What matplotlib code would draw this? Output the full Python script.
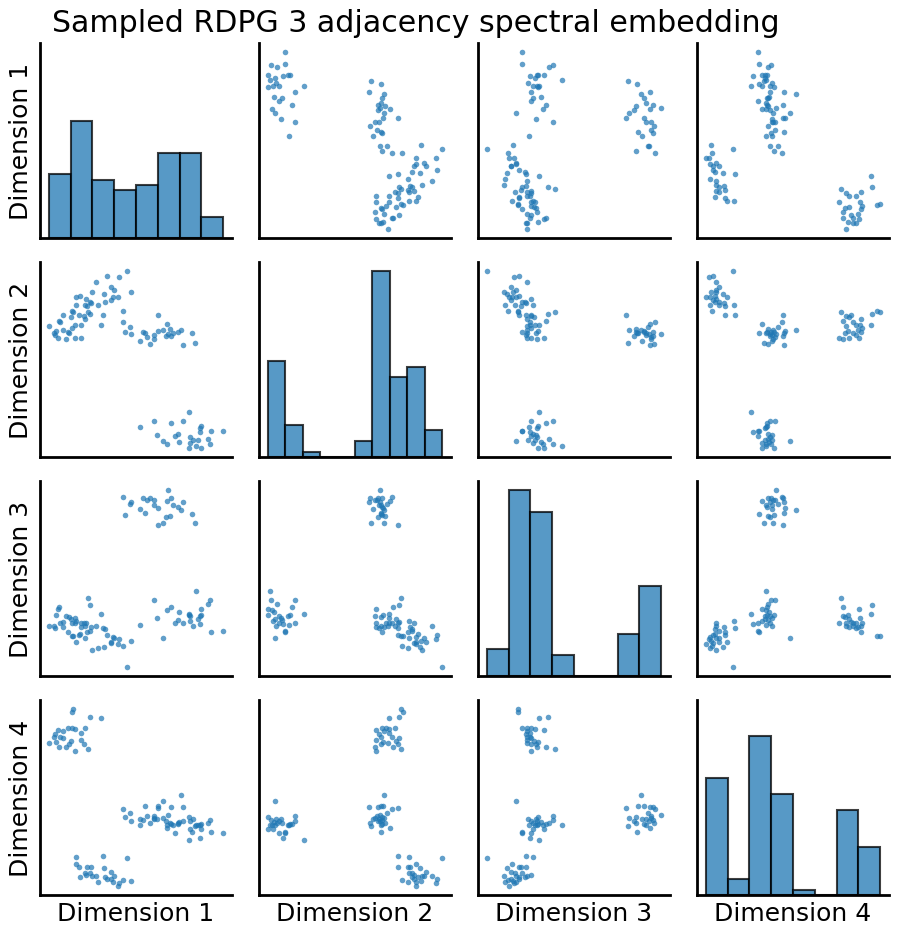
import numpy as np
import matplotlib.pyplot as plt

# adjacency spectral embedding, 100 nodes (4 blocks of 25)
dim1 = [0.112, 0.108, 0.163, 0.196, 0.107, 0.097, 0.148, 0.118, 0.067, 0.082, 0.135, 0.056, 0.055,
        0.072, 0.080, 0.136, 0.104, 0.060, 0.038, 0.145, 0.100, 0.070, 0.090, 0.157, 0.118,
        0.202, 0.121, 0.274, 0.120, 0.130, 0.153, 0.166, 0.205, 0.226, 0.148, 0.163, 0.150, 0.168,
        0.180, 0.233, 0.133, 0.207, 0.213, 0.224, 0.262, 0.286, 0.185, 0.232, 0.248, 0.247,
        0.380, 0.355, 0.458, 0.470, 0.364, 0.523, 0.442, 0.462, 0.428, 0.517, 0.426, 0.495, 0.405,
        0.480, 0.313, 0.394, 0.493, 0.486, 0.462, 0.494, 0.526, 0.562, 0.416, 0.492, 0.460,
        0.436, 0.366, 0.326, 0.442, 0.406, 0.367, 0.262, 0.283, 0.397, 0.332, 0.268, 0.355, 0.380,
        0.313, 0.355, 0.322, 0.284, 0.390, 0.343, 0.403, 0.426, 0.410, 0.476, 0.394, 0.468]
dim2 = [0.439, 0.443, 0.433, 0.403, 0.392, 0.380, 0.420, 0.403, 0.364, 0.386, 0.402, 0.373, 0.378,
        0.412, 0.432, 0.364, 0.424, 0.385, 0.400, 0.428, 0.378, 0.415, 0.360, 0.439, 0.362,
        0.430, 0.462, 0.562, 0.484, 0.430, 0.458, 0.466, 0.494, 0.514, 0.462, 0.470, 0.478, 0.500,
        0.530, 0.506, 0.488, 0.470, 0.546, 0.476, 0.442, 0.498, 0.460, 0.484, 0.544, 0.484,
        0.058, 0.118, 0.037, 0.062, 0.076, 0.048, 0.118, 0.070, 0.055, 0.065, 0.080, 0.104, 0.110,
        0.044, 0.100, 0.050, 0.098, 0.060, 0.052, 0.038, 0.088, 0.089, 0.072, 0.084, 0.145,
        0.388, 0.385, 0.378, 0.343, 0.370, 0.430, 0.412, 0.397, 0.375, 0.366, 0.380, 0.360, 0.386,
        0.355, 0.372, 0.380, 0.375, 0.368, 0.344, 0.390, 0.382, 0.378, 0.348, 0.404, 0.378]
dim3 = [0.133, 0.133, 0.223, 0.198, 0.172, 0.145, 0.162, 0.185, 0.211, 0.160, 0.170, 0.157, 0.162,
        0.170, 0.174, 0.160, 0.182, 0.194, 0.162, 0.172, 0.188, 0.218, 0.190, 0.244, 0.172,
        0.157, 0.178, 0.040, 0.115, 0.136, 0.144, 0.158, 0.100, 0.114, 0.126, 0.146, 0.172, 0.092,
        0.162, 0.127, 0.138, 0.154, 0.136, 0.112, 0.103, 0.118, 0.096, 0.128, 0.122, 0.108,
        0.127, 0.238, 0.195, 0.163, 0.187, 0.238, 0.172, 0.192, 0.202, 0.226, 0.180, 0.195, 0.217,
        0.265, 0.166, 0.208, 0.190, 0.184, 0.178, 0.212, 0.145, 0.146, 0.172, 0.169, 0.198,
        0.505, 0.512, 0.496, 0.530, 0.540, 0.460, 0.545, 0.524, 0.565, 0.535, 0.490, 0.535, 0.468,
        0.508, 0.520, 0.540, 0.528, 0.484, 0.542, 0.488, 0.514, 0.520, 0.466, 0.532, 0.493]
dim4 = [0.567, 0.557, 0.542, 0.539, 0.510, 0.509, 0.508, 0.506, 0.502, 0.499, 0.493, 0.492, 0.483,
        0.483, 0.478, 0.472, 0.470, 0.468, 0.463, 0.462, 0.460, 0.452, 0.452, 0.446, 0.440,
        0.122, 0.119, 0.116, 0.098, 0.090, 0.090, 0.089, 0.086, 0.074, 0.073, 0.072, 0.065, 0.063,
        0.063, 0.062, 0.060, 0.059, 0.055, 0.054, 0.052, 0.049, 0.044, 0.044, 0.042, 0.032,
        0.290, 0.243, 0.240, 0.236, 0.236, 0.232, 0.230, 0.228, 0.225, 0.222, 0.222, 0.220, 0.220,
        0.218, 0.218, 0.216, 0.215, 0.215, 0.205, 0.204, 0.195, 0.192, 0.192, 0.176, 0.170,
        0.308, 0.275, 0.273, 0.272, 0.270, 0.269, 0.266, 0.254, 0.248, 0.244, 0.242, 0.238, 0.238,
        0.236, 0.234, 0.232, 0.228, 0.228, 0.222, 0.222, 0.220, 0.218, 0.212, 0.206, 0.196]

dim_names = ['Dimension 1', 'Dimension 2', 'Dimension 3', 'Dimension 4']
n_bins = [8, 10, 8, 8]

X = np.column_stack([dim1, dim2, dim3, dim4])
lims = []
for k in range(4):
    lo, hi = X[:, k].min(), X[:, k].max()
    pad = 0.05 * (hi - lo)
    lims.append((lo - pad, hi + pad))

W, H = 902, 937
fig = plt.figure(figsize=(W / 100, H / 100), dpi=100)

# grid geometry in pixels
x0, y0, aw, ah, step_x, step_y = 40, 41, 192, 195, 219, 219

diag_axes = []
for i in range(4):
    for j in range(4):
        ax = fig.add_axes([(x0 + j * step_x) / W, (y0 + (3 - i) * step_y) / H, aw / W, ah / H])
        if i == j:
            ax.hist(X[:, j], bins=n_bins[j], color='#1f77b4', alpha=0.75,
                    edgecolor='black', linewidth=1.5)
            diag_axes.append(ax)
        else:
            ax.scatter(X[:, j], X[:, i], s=16, color='#1f77b4', alpha=0.7, linewidths=0)
            ax.set_ylim(lims[i])
        ax.set_xlim(lims[j])
        ax.set_xticks([])
        ax.set_yticks([])
        for side in ['top', 'right']:
            ax.spines[side].set_visible(False)
        for side in ['left', 'bottom']:
            ax.spines[side].set_linewidth(2)
        if j == 0:
            ax.set_ylabel(dim_names[i], fontsize=18, labelpad=5)
        if i == 3:
            ax.set_xlabel(dim_names[j], fontsize=18, labelpad=4)

# histograms on the diagonal share one count axis
top = max(ax.get_ylim()[1] for ax in diag_axes)
for ax in diag_axes:
    ax.set_ylim(0, top)

fig.text(52 / W, 1 - 23 / H, 'Sampled RDPG 3 adjacency spectral embedding',
         fontsize=21.6, ha='left', va='center')

fig.savefig('out.png', dpi=100)
